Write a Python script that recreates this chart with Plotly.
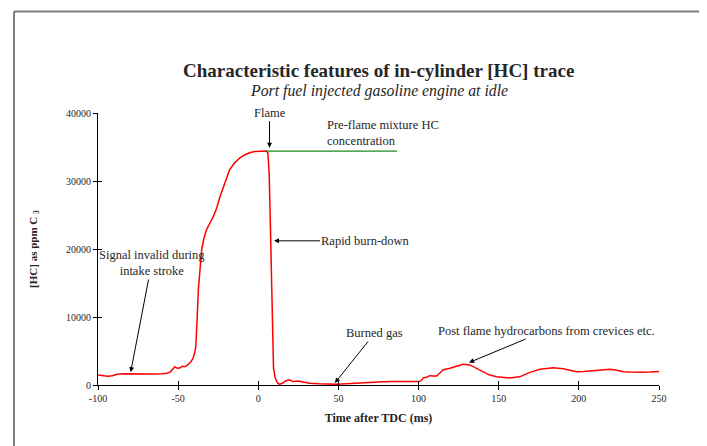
import plotly.graph_objects as go

# ---- data ----
time_ms = [-100, -97, -94, -91, -88, -84, -80, -75, -70, -65, -60, -57, -55, -53, -52, -50.5, -49, -47.5, -46,
           -44.5, -42.5, -41, -40, -39, -38.5, -38, -37.4, -36.5, -35.3, -34, -32.2, -30, -28, -26, -24, -21,
           -18, -15, -11.5, -8, -5, -2, 2, 5, 6, 6.8, 7.5, 8.2, 8.8, 9.5, 10.5, 12, 13.2, 15, 17, 19.3, 21.5,
           25, 28, 32, 38, 44, 49, 55, 62, 70, 78, 85, 92, 100, 101.5, 103, 105, 107, 109, 111.3, 113, 115.4,
           119.6, 123, 127.9, 132, 136, 140.4, 144, 148.7, 153, 157, 163, 166, 169.5, 175.7, 180, 184, 190.3,
           195, 198.6, 203, 207, 213, 219.4, 223, 227.7, 232, 236, 240, 244.3, 250]
hc_ppm = [1480, 1350, 1300, 1360, 1580, 1640, 1620, 1600, 1610, 1620, 1640, 1720, 1900, 2450, 2700, 2450, 2500,
          2750, 2700, 2850, 3300, 3800, 4400, 5600, 7500, 10500, 14000, 17000, 19900, 21500, 22900, 23900, 24800,
          26000, 27600, 29600, 31600, 32600, 33400, 33900, 34200, 34350, 34400, 34400, 34100, 31000, 24000, 15000,
          7000, 2500, 1100, 300, 100, 250, 600, 750, 500, 600, 450, 260, 180, 120, 100, 180, 300, 400, 480, 500,
          480, 500, 600, 1050, 1150, 1370, 1320, 1320, 1700, 2250, 2450, 2700, 3050, 2950, 2450, 1870, 1500, 1230,
          1080, 1030, 1200, 1500, 1860, 2300, 2480, 2550, 2400, 2150, 1960, 1980, 2050, 2200, 2300, 2200, 1960,
          1900, 1860, 1880, 1900, 2000]

preflame_t = [5, 86.5]
preflame_hc = [34400, 34400]

x_tick_vals = [-100, -50, 0, 50, 100, 150, 200, 250]
x_tick_labels = ["-100", "-50", "0", "50", "100", "150", "200", "250"]
y_tick_vals = [0, 10000, 20000, 30000, 40000]
y_tick_labels = ["0", "10000", "20000", "30000", "40000"]

title_text = "<b>Characteristic features of in-cylinder [HC] trace</b>"
subtitle_text = "<i>Port fuel injected gasoline engine at idle</i>"

SERIF = "Liberation Serif, Times New Roman, serif"
TXT = "#262626"

fig = go.Figure()
fig.add_trace(go.Scatter(x=time_ms, y=hc_ppm, mode="lines",
                         line=dict(color="#ff0000", width=1.5), showlegend=False))
fig.add_trace(go.Scatter(x=preflame_t, y=preflame_hc, mode="lines",
                         line=dict(color="#1e8a1e", width=1.2), showlegend=False))

axis_common = dict(showgrid=False, zeroline=False, showline=True, linecolor="black", linewidth=1,
                   ticks="outside", ticklen=4, tickcolor="black", tickwidth=1, automargin=False,
                   tickfont=dict(family=SERIF, size=10, color=TXT))

# page body has an 8px margin: figure is sized/offset to compensate
fig.update_layout(
    width=699, height=438,
    margin=dict(l=90, r=48, t=105, b=61),
    paper_bgcolor="white", plot_bgcolor="white",
    xaxis=dict(range=[-100, 250], tickvals=x_tick_vals, ticktext=x_tick_labels,
               title=dict(text="<b>Time after TDC (ms)</b>", font=dict(family=SERIF, size=12, color=TXT),
                          standoff=10),
               **axis_common),
    yaxis=dict(range=[0, 40000], tickvals=y_tick_vals, ticktext=y_tick_labels,
               title=dict(text="<b>[HC] as ppm C <sub>3</sub></b>", font=dict(family=SERIF, size=11, color=TXT),
                          standoff=26),
               **axis_common),
    xaxis2=dict(range=[-100, 250], overlaying="x", anchor="y", tickvals=x_tick_vals, showticklabels=False,
                ticks="inside", ticklen=4, tickcolor="black", showgrid=False, zeroline=False, showline=False),
    yaxis2=dict(range=[0, 40000], overlaying="y", anchor="x", tickvals=y_tick_vals, showticklabels=False,
                ticks="inside", ticklen=4, tickcolor="black", showgrid=False, zeroline=False, showline=False),
    showlegend=False,
)

# invisible trace to activate the overlay axes (tick marks inside)
fig.add_trace(go.Scatter(x=[], y=[], xaxis="x2", yaxis="y2", showlegend=False, hoverinfo="skip"))

# figure frame
fig.add_shape(type="line", xref="paper", yref="paper", x0=-0.1497, x1=1.0767, y0=1.373, y1=1.373,
              line=dict(color="#7f7f7f", width=2))
fig.add_shape(type="line", xref="paper", yref="paper", x0=1.0767, x1=1.0767, y0=1.376, y1=-0.3,
              line=dict(color="#7f7f7f", width=2))
fig.add_shape(type="line", xref="paper", yref="paper", x0=-0.1497, x1=-0.1497, y0=1.373, y1=-0.3,
              line=dict(color="black", width=1))

# titles
fig.add_annotation(text=title_text, xref="paper", yref="paper", x=0.5, y=1.158, showarrow=False,
                   xanchor="center", yanchor="middle", font=dict(family=SERIF, size=19, color=TXT))
fig.add_annotation(text=subtitle_text, xref="paper", yref="paper", x=0.5, y=1.082, showarrow=False,
                   xanchor="center", yanchor="middle", font=dict(family=SERIF, size=15.8, color=TXT))

afont = dict(family=SERIF, size=12.5, color=TXT)
arrow = dict(showarrow=True, arrowhead=2, arrowsize=1, arrowwidth=1, arrowcolor="black")

fig.add_annotation(x=7, y=34900, text="Flame", ax=0, ay=-35, font=afont, standoff=0, **arrow)
fig.add_annotation(x=9.8, y=21200, text="Rapid burn-down", ax=92, ay=0, font=afont, **arrow)
fig.add_annotation(x=-79.6, y=1900, text="Signal invalid during<br>intake stroke", ax=21, ay=-109,
                   font=afont, **arrow)
fig.add_annotation(x=47.8, y=300, text="Burned gas", ax=40, ay=-50, font=afont, **arrow)
fig.add_annotation(x=131.5, y=3300, text="Post flame hydrocarbons from crevices etc.", ax=77, ay=-32,
                   font=afont, **arrow)
fig.add_annotation(x=41.6, y=37050, text="Pre-flame mixture HC<br>concentration", showarrow=False,
                   xanchor="left", align="left", yanchor="middle", font=afont)

fig.write_html("out.html")
